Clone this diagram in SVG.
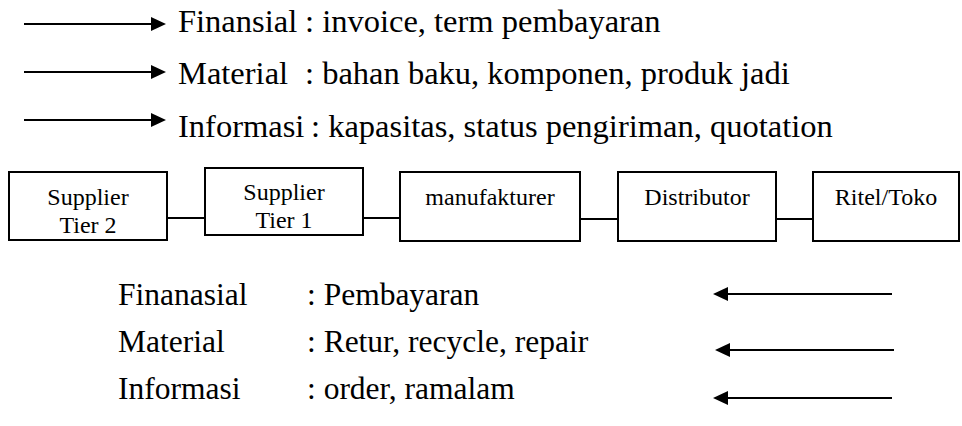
<svg xmlns="http://www.w3.org/2000/svg" width="962" height="426" viewBox="0 0 962 426">
<defs>
<marker id="ah" markerWidth="16" markerHeight="16" refX="2" refY="7" orient="auto" markerUnits="userSpaceOnUse"><path d="M0,0 L15,7 L0,14 Z" fill="#000"/></marker>
<style>
.t{font-family:"Liberation Serif","Times New Roman",serif;font-size:32.5px;fill:#000}
.u{font-family:"Liberation Serif","Times New Roman",serif;font-size:31.5px;fill:#000}
.b{font-family:"Liberation Serif","Times New Roman",serif;font-size:24px;fill:#000;text-anchor:middle}
.box{fill:#fff;stroke:#000;stroke-width:2}
.ln{stroke:#000;stroke-width:2;fill:none}
.ar{stroke:#000;stroke-width:2;fill:none;marker-end:url(#ah)}
</style>
</defs>
<rect width="962" height="426" fill="#fff"/>
<g id="connectors">
<line class="ar" x1="24" y1="24" x2="153" y2="24"/>
<line class="ar" x1="24" y1="72" x2="153" y2="72"/>
<line class="ar" x1="24" y1="120" x2="153" y2="120"/>
<line class="ln" x1="167" y1="218" x2="205" y2="218"/>
<line class="ln" x1="363" y1="218" x2="400" y2="218"/>
<line class="ln" x1="580" y1="219" x2="618" y2="219"/>
<line class="ln" x1="776" y1="219" x2="813" y2="219"/>
<line class="ar" x1="892" y1="294" x2="726" y2="294"/>
<line class="ar" x1="894" y1="350" x2="728" y2="350"/>
<line class="ar" x1="892" y1="398" x2="726" y2="398"/>
</g>
<g id="legend-top">
<text class="t" x="178" y="32">Finansial</text><text class="t" x="305" y="32">: invoice, term pembayaran</text>
<text class="t" x="178" y="84">Material</text><text class="t" x="305" y="84">: bahan baku, komponen, produk jadi</text>
<text class="t" x="178" y="137">Informasi</text><text class="t" x="311" y="137">: kapasitas, status pengiriman, quotation</text>
</g>
<g id="supplier-tier-2"><rect class="box" x="9" y="172" width="158" height="68"/><text class="b" x="88" y="205">Supplier</text><text class="b" x="88" y="233">Tier 2</text></g>
<g id="supplier-tier-1"><rect class="box" x="205" y="168" width="158" height="67"/><text class="b" x="284" y="200">Supplier</text><text class="b" x="284" y="228">Tier 1</text></g>
<g id="manufakturer"><rect class="box" x="400" y="172" width="180" height="69"/><text class="b" x="490" y="205">manufakturer</text></g>
<g id="distributor"><rect class="box" x="618" y="172" width="158" height="69"/><text class="b" x="697" y="205">Distributor</text></g>
<g id="ritel-toko"><rect class="box" x="813" y="172" width="146" height="69"/><text class="b" x="886" y="205">Ritel/Toko</text></g>
<g id="legend-bottom">
<text class="u" x="118" y="305">Finanasial</text><text class="u" x="307" y="305">: Pembayaran</text>
<text class="u" x="118" y="352">Material</text><text class="u" x="307" y="352">: Retur, recycle, repair</text>
<text class="u" x="118" y="399">Informasi</text><text class="u" x="307" y="399">: order, ramalam</text>
</g>
</svg>
